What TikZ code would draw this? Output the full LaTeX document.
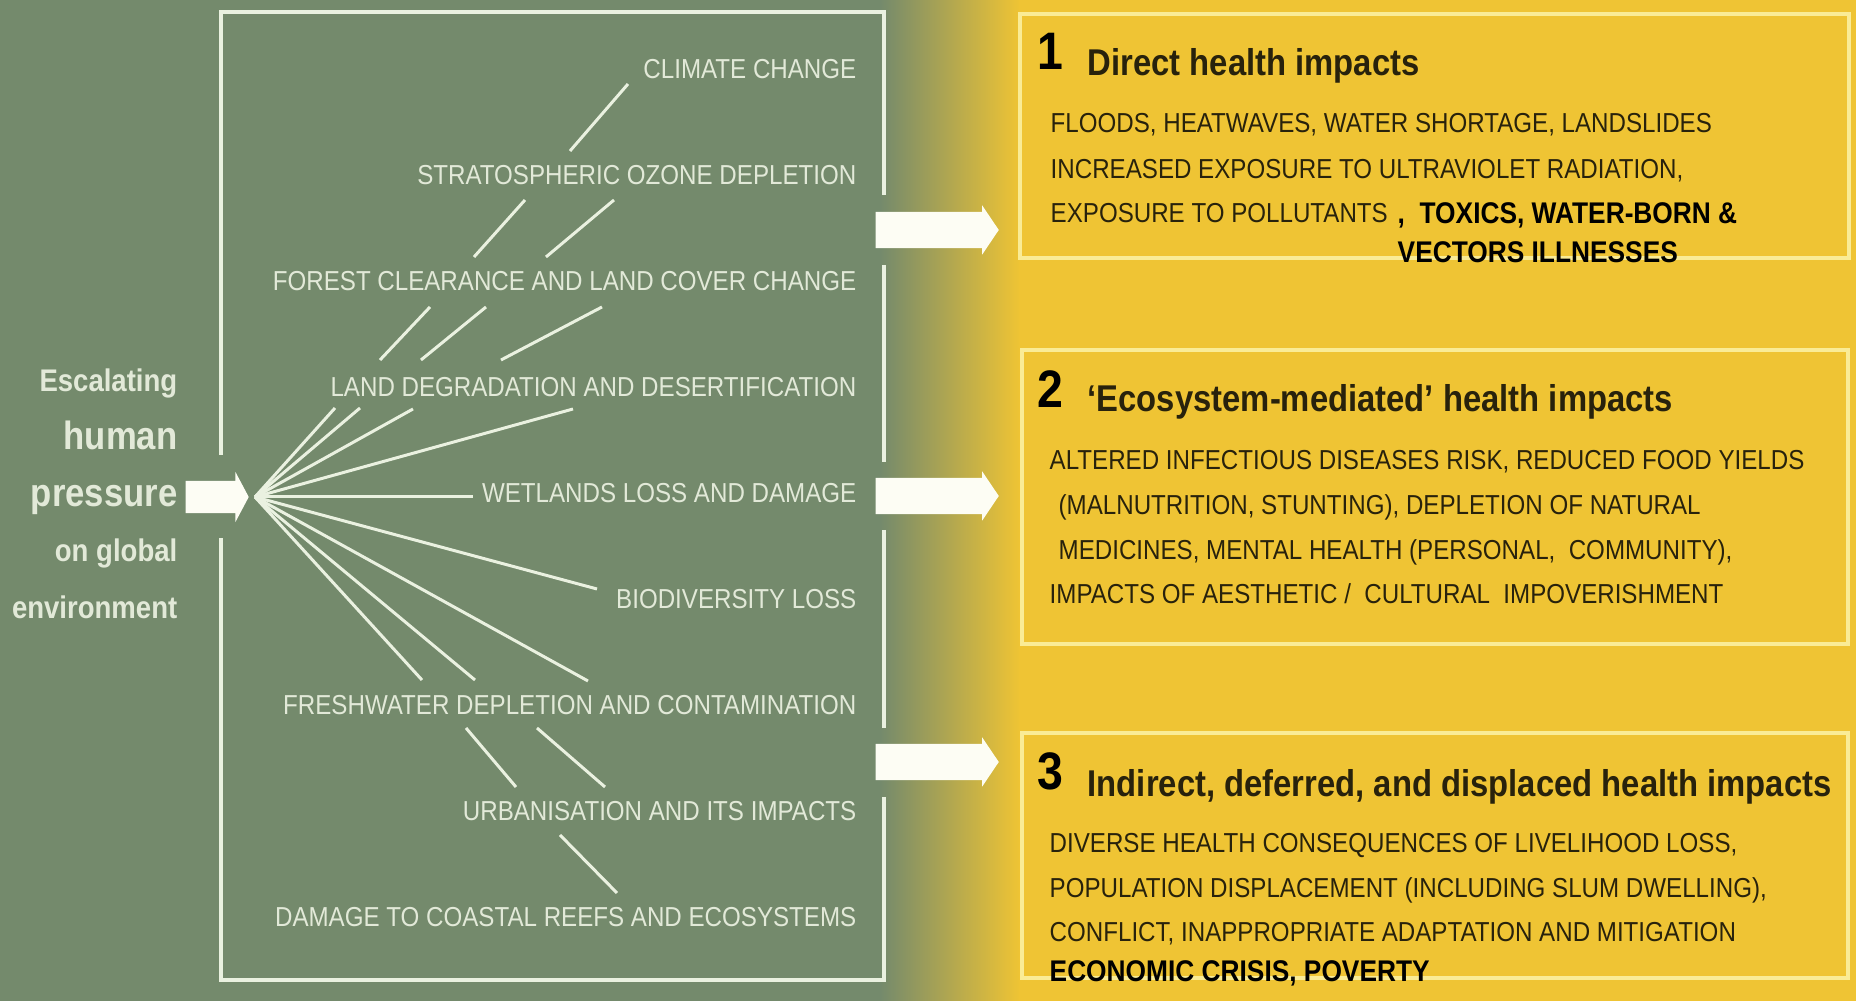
\documentclass[tikz,border=0pt]{standalone}
\usepackage{fontspec}
\setmainfont{Liberation Sans}[FakeStretch=0.88]
\usetikzlibrary{shapes,arrows,positioning}
\definecolor{bggreen}{RGB}{116,138,108}
\definecolor{bgyellow}{RGB}{239,196,52}
\definecolor{paletext}{RGB}{226,233,216}
\definecolor{paleline}{RGB}{234,241,224}
\definecolor{darktext}{RGB}{40,34,12}
\definecolor{boxline}{RGB}{250,236,150}
\definecolor{arrowwhite}{RGB}{253,253,244}
\tikzstyle{frame} = [draw=paleline, line width=1.1pt]
\tikzstyle{fanline} = [draw=paleline, line width=0.85pt]
\tikzstyle{hazard} = [anchor=base east, inner sep=0pt, text=paletext, font=\fontsize{7.8}{9}\selectfont]
\tikzstyle{pressure} = [anchor=base east, inner sep=0pt, text=paletext, font=\bfseries\fontsize{8.9}{10}\selectfont]
\tikzstyle{bigpressure} = [pressure, font=\bfseries\fontsize{11.2}{12}\selectfont]
\tikzstyle{bigarrow} = [single arrow, fill=arrowwhite, inner xsep=0pt, inner ysep=0.175cm, anchor=tail, minimum height=1.23cm, single arrow head extend=0.065cm, single arrow tip angle=112]
\tikzstyle{impactbox} = [draw=boxline, line width=1.2pt, inner sep=0pt]
\tikzstyle{impactnum} = [anchor=base west, inner sep=0pt, text=black, font=\bfseries\fontsize{15}{16}\selectfont]
\tikzstyle{impacttitle} = [anchor=base west, inner sep=0pt, text=darktext, font=\bfseries\fontsize{10.6}{12}\selectfont]
\tikzstyle{impactline} = [anchor=base west, inner sep=0pt, text=darktext, font=\fontsize{7.8}{9}\selectfont]
\tikzstyle{addedline} = [anchor=base west, inner sep=0pt, text=black, font=\bfseries\fontsize{8.5}{10}\selectfont]

\begin{document}
\begin{tikzpicture}[x=0.01cm, y=-0.01cm]
\useasboundingbox (0,0) rectangle (1856,1001);
% background
\fill[bggreen] (0,0) rectangle (882,1001);
\shade[left color=bggreen, right color=bgyellow] (880,0) rectangle (1020,1001);
\fill[bgyellow] (1019,0) rectangle (1856,1001);

% frame round the pressures
\draw[frame] (221,455) -- (221,12) -- (884,12) -- (884,195);
\draw[frame] (884,265) -- (884,462);
\draw[frame] (884,530) -- (884,728);
\draw[frame] (884,797) -- (884,980) -- (221,980) -- (221,538);

% escalating human pressure
\node[pressure] (esc) at (178,392) {Escalating};
\node[bigpressure] (human) at (178,450) {human};
\node[bigpressure] (press) at (178,507) {pressure};
\node[pressure] (onglobal) at (178,562) {on global};
\node[pressure] (environ) at (178,619) {environment};
\node[bigarrow, minimum height=0.63cm, inner ysep=0.155cm, single arrow head extend=0.09cm, single arrow tip angle=124] (push) at (185,497) {};

% pressures on the environment
\node[hazard] (climate) at (857,79) {CLIMATE CHANGE};
\node[hazard] (ozone) at (857,185) {STRATOSPHERIC OZONE DEPLETION};
\node[hazard] (forest) at (857,291) {FOREST CLEARANCE AND LAND COVER CHANGE};
\node[hazard] (landdeg) at (857,397) {LAND DEGRADATION AND DESERTIFICATION};
\node[hazard] (wetlands) at (857,503) {WETLANDS LOSS AND DAMAGE};
\node[hazard] (biodiv) at (857,609) {BIODIVERSITY LOSS};
\node[hazard] (freshw) at (857,715) {FRESHWATER DEPLETION AND CONTAMINATION};
\node[hazard] (urban) at (857,821) {URBANISATION AND ITS IMPACTS};
\node[hazard] (reefs) at (857,927) {DAMAGE TO COASTAL REEFS AND ECOSYSTEMS};

% fan from the pressure
\coordinate (hub) at (255,497);
\coordinate (ld1) at (335,408);
\coordinate (ld2) at (360,408);
\coordinate (ld3) at (413,409);
\coordinate (ld4) at (573,409);
\coordinate (wl) at (473,497);
\coordinate (bd) at (597,589);
\coordinate (fw1) at (422,680);
\coordinate (fw2) at (475,680);
\coordinate (fw3) at (588,681);
\draw[fanline] (hub) -- (ld1);
\draw[fanline] (hub) -- (ld2);
\draw[fanline] (hub) -- (ld3);
\draw[fanline] (hub) -- (ld4);
\draw[fanline] (hub) -- (wl);
\draw[fanline] (hub) -- (bd);
\draw[fanline] (hub) -- (fw1);
\draw[fanline] (hub) -- (fw2);
\draw[fanline] (hub) -- (fw3);

% links between the pressures
\coordinate (cc1) at (628,84);   \coordinate (oz0) at (570,151);
\coordinate (oz1) at (525,200);  \coordinate (fc1) at (474,257);
\coordinate (oz2) at (614,200);  \coordinate (fc2) at (546,257);
\coordinate (fc3) at (430,307);  \coordinate (ldA) at (380,360);
\coordinate (fc4) at (486,307);  \coordinate (ldB) at (421,360);
\coordinate (fc5) at (602,307);  \coordinate (ldC) at (501,360);
\coordinate (fw4) at (466,728);  \coordinate (ur1) at (516,787);
\coordinate (fw5) at (537,728);  \coordinate (ur2) at (605,787);
\coordinate (ur3) at (560,835);  \coordinate (rf1) at (617,893);
\draw[fanline] (cc1) -- (oz0);
\draw[fanline] (oz1) -- (fc1);
\draw[fanline] (oz2) -- (fc2);
\draw[fanline] (fc3) -- (ldA);
\draw[fanline] (fc4) -- (ldB);
\draw[fanline] (fc5) -- (ldC);
\draw[fanline] (fw4) -- (ur1);
\draw[fanline] (fw5) -- (ur2);
\draw[fanline] (ur3) -- (rf1);

% arrows to the impacts
\node[bigarrow] (toimp1) at (875,230) {};
\node[bigarrow] (toimp2) at (875,496) {};
\node[bigarrow] (toimp3) at (875,762) {};

% impact boxes
\node[impactbox, minimum width=8.29cm, minimum height=2.44cm] (box1) at (1434.5,136) {};
\node[impactbox, minimum width=8.26cm, minimum height=2.94cm] (box2) at (1435,497) {};
\node[impactbox, minimum width=8.26cm, minimum height=2.45cm] (box3) at (1435,855.5) {};

\node[impactnum] (num1) at (1037,70) {1};
\node[impacttitle] (title1) at (1087,76) {Direct health impacts};
\node[impactline] (imp1a) at (1050,133) {FLOODS, HEATWAVES, WATER SHORTAGE, LANDSLIDES};
\node[impactline] (imp1b) at (1050,179) {INCREASED EXPOSURE TO ULTRAVIOLET RADIATION,};
\node[impactline] (imp1c) at (1050,223) {EXPOSURE TO POLLUTANTS};
\node[addedline] (imp1d) at (1397,224) {, \ TOXICS, WATER-BORN \&};
\node[addedline] (imp1e) at (1397,263) {VECTORS ILLNESSES};

\node[impactnum] (num2) at (1037,408) {2};
\node[impacttitle] (title2) at (1087,412) {`Ecosystem-mediated' health impacts};
\node[impactline] (imp2a) at (1049,470) {ALTERED INFECTIOUS DISEASES RISK, REDUCED FOOD YIELDS};
\node[impactline] (imp2b) at (1058,515) {(MALNUTRITION, STUNTING), DEPLETION OF NATURAL};
\node[impactline] (imp2c) at (1058,560) {MEDICINES, MENTAL HEALTH (PERSONAL, \ COMMUNITY),};
\node[impactline] (imp2d) at (1049,604) {IMPACTS OF AESTHETIC / \ CULTURAL \ IMPOVERISHMENT};

\node[impactnum] (num3) at (1037,790) {3};
\node[impacttitle] (title3) at (1087,797) {Indirect, deferred, and displaced health impacts};
\node[impactline] (imp3a) at (1049,853) {DIVERSE HEALTH CONSEQUENCES OF LIVELIHOOD LOSS,};
\node[impactline] (imp3b) at (1049,898) {POPULATION DISPLACEMENT (INCLUDING SLUM DWELLING),};
\node[impactline] (imp3c) at (1049,942) {CONFLICT, INAPPROPRIATE ADAPTATION AND MITIGATION};
\node[addedline] (imp3d) at (1049,982) {ECONOMIC CRISIS, POVERTY};
\end{tikzpicture}
\end{document}
